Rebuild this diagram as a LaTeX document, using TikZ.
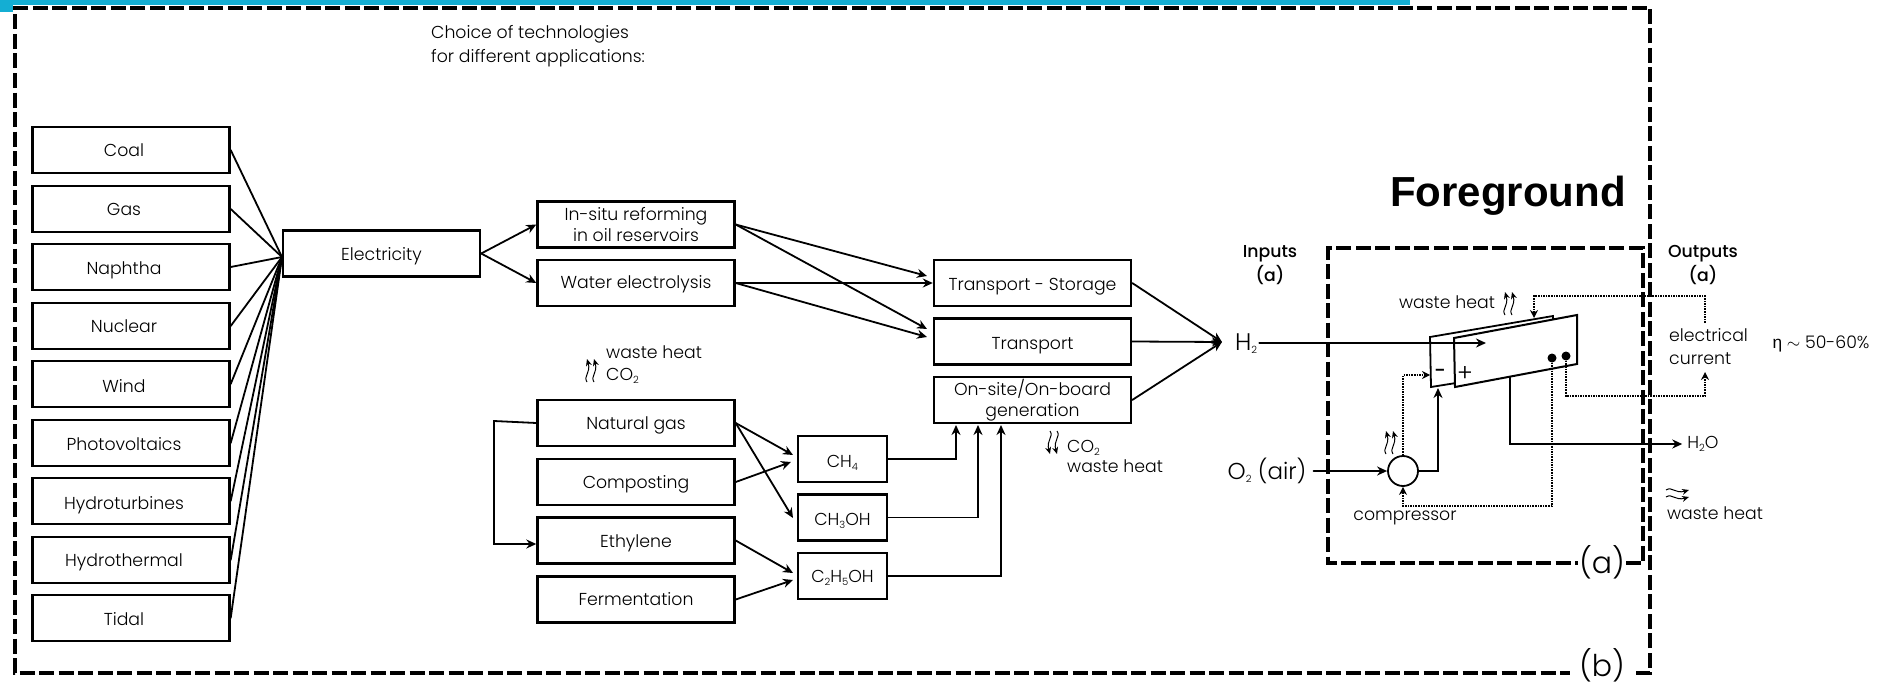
\documentclass[tikz,border=0pt]{standalone}
\usepackage{fontspec}
\setmainfont{Poppins}[UprightFont=* Light,BoldFont=* Medium]
\newfontfamily\arialf{Liberation Sans}
\usetikzlibrary{arrows.meta,calc}
\definecolor{band}{HTML}{14AED3}
\newcommand{\lowidx}[1]{{\fontsize{10}{10}\selectfont\raisebox{-3pt}{#1}}}
\newcommand{\dn}[2]{\raisebox{0pt}[\dimexpr\height+#1pt*2\relax][\depth]{#2}}
\tikzset{
  base/.style={font=\fontsize{17.3}{24}\selectfont},
  box/.style={base,draw=black,line width=2.4pt,fill=white,minimum width=197pt,minimum height=46pt,inner sep=0pt,align=center},
  leftbox/.style={box,execute at begin node={\hspace*{-14pt}}},
  chem/.style={box,minimum width=89pt},
  txt/.style={base,inner sep=0pt,align=left},
  wire/.style={line width=1.8pt,line cap=round},
  arr/.style={wire,-{Stealth[length=10pt,width=9pt]}},
  dotw/.style={line width=1.6pt,densely dotted},
  dotarr/.style={dotw,-{Stealth[length=8pt,width=8pt]}},
  frame/.style={line width=3.2pt,dash pattern=on 15pt off 4.5pt},
  waves/.pic={
    \draw[line width=1pt,-{Stealth[length=7pt,width=6pt]}] (-3,12) .. controls (-7,6) and (1,3) .. (-3,-11);
    \draw[line width=1pt,-{Stealth[length=7pt,width=6pt]}] (4,12) .. controls (0,6) and (8,3) .. (4,-11);
  }
}
\begin{document}
\begin{tikzpicture}[x=1pt,y=-1pt]
\useasboundingbox (0,0) rectangle (1885,685);
\fill[white] (0,0) rectangle (1885,685);
\fill[band] (0,0) rectangle (1410,5);
\fill[band] (0,0) rectangle (13,12);
% frames
\node[font=\fontsize{30}{30}\selectfont,inner sep=0pt] (lblb) at (1602,665) {(b)};
\node[font=\fontsize{30}{30}\selectfont,inner sep=0pt] (lbla) at (1602,562) {(a)};
\draw[frame] (1636,673) -- (1650,673) -- (1650,8) -- (15,8) -- (15,673) -- (1570,673);
\draw[frame,line width=3.8pt] (1626,563) -- (1643,563) -- (1643,248) -- (1328,248) -- (1328,563) -- (1578,563);
% left column
\node[leftbox] (coal) at (131,150) {Coal};
\node[leftbox] (gas) at (131,209) {Gas};
\node[leftbox] (naph) at (131,267) {\dn{3.5}{Naphtha}};
\node[leftbox] (nucl) at (131,326) {Nuclear};
\node[leftbox] (wind) at (131,384) {\dn{2}{Wind}};
\node[leftbox] (pv) at (131,443) {\dn{1}{Photovoltaics}};
\node[leftbox] (hturb) at (131,501) {\dn{4}{Hydroturbines}};
\node[leftbox] (htherm) at (131,560) {\dn{2}{Hydrothermal}};
\node[leftbox] (tidal) at (131,618) {\dn{1}{Tidal}};
\node[box] (elec) at (381.5,253.5) {\dn{3}{Electricity}};
% middle
\node[box,font=\fontsize{17.3}{21.5}\selectfont] (insitu) at (636,224.5) {In-situ reforming\\in oil reservoirs};
\node[box] (water) at (636,283) {\dn{1}{Water electrolysis}};
\node[box] (ng) at (636,423) {\dn{2}{Natural gas}};
\node[box] (comp) at (636,482) {\dn{2}{Composting}};
\node[box] (eth) at (636,540.5) {\dn{3}{Ethylene}};
\node[box] (ferm) at (636,599.5) {Fermentation};
\node[chem] (ch4) at (842.5,459) {\dn{4}{CH\lowidx{4}}};
\node[chem] (ch3) at (842.5,517.5) {\dn{3}{CH\lowidx{3}OH}};
\node[chem] (c2) at (842.5,576) {\dn{2}{C\lowidx{2}H\lowidx{5}OH}};
\node[box] (ts) at (1032.5,283) {\dn{4}{Transport - Storage}};
\node[box] (tr) at (1032.5,341.5) {\dn{4}{Transport}};
\node[box,font=\fontsize{17.3}{21.5}\selectfont] (os) at (1032.5,400) {On-site/On-board\\generation};
% text
\node[txt,anchor=west] (choice) at (431,46) {Choice of technologies\\for different applications:};
\node[txt,anchor=west,font=\fontsize{17.3}{22}\selectfont] (wh1) at (606,365) {waste heat\\CO\lowidx{2}};
\node[txt,anchor=west,font=\fontsize{17.3}{20}\selectfont] (wh2) at (1067,456) {CO\lowidx{2}\\waste heat};
\node[anchor=west,inner sep=0pt,font=\arialf\bfseries\fontsize{42}{42}\selectfont] (fg) at (1390,196) {Foreground};
\node[txt,align=center,font=\bfseries\fontsize{17.3}{24}\selectfont] (inp) at (1270,265) {Inputs\\(a)};
\node[txt,align=center,font=\bfseries\fontsize{17.3}{24}\selectfont] (outp) at (1703,265) {Outputs\\(a)};
\node[txt,font=\fontsize{24}{24}\selectfont] (h2) at (1246,344) {H\lowidx{2}};
\node[txt,font=\fontsize{23}{23}\selectfont] (o2) at (1267,471) {O\lowidx{2} (air)};
\node[txt] (h2o) at (1703,444) {H\lowidx{2}O};
\node[txt] (wh3) at (1447,302) {waste heat};
\node[txt] (cp) at (1405,518) {compressor};
\node[txt,anchor=west,font=\fontsize{17.3}{23}\selectfont] (cur) at (1669,347) {electrical\\current};
\node[txt] (wh4) at (1715,513) {waste heat};
\node[txt] (eta) at (1821,344) {{\arialf η} $\sim$ 50-60\%};
% wavy arrows
\pic at (590,370) {waves};
\pic[rotate=180] at (1054,443) {waves};
\pic at (1508,303) {waves};
\pic at (1389,442) {waves};
\pic[rotate=-90] at (1678,493) {waves};
% connector end points
\coordinate (hub) at (282,257);
\coordinate (h2in) at (1222,342);
\coordinate (tsA) at (927,276);
\coordinate (trA) at (927,329);
\coordinate (trB) at (927,337);
\coordinate (chA) at (793,455);
\coordinate (chB) at (791,462);
\coordinate (chC) at (793,518);
\coordinate (chD) at (793,573);
\coordinate (chE) at (793,580);
\coordinate (osA) at (956,425);
\coordinate (osB) at (978,425);
\coordinate (osC) at (1001,425);
\coordinate (ngbus) at (494,421);
\coordinate (ethbus) at (494,544);
\foreach \n in {coal,gas,naph,nucl,wind,pv,hturb,htherm,tidal}{\draw[wire] (\n.east) -- (hub);}
\draw[arr] (elec.east) -- (insitu.west);
\draw[arr] (elec.east) -- (water.west);
\draw[arr] (insitu.east) -- (tsA);
\draw[arr] (insitu.east) -- (trA);
\draw[arr] (water.east) -- (ts.west);
\draw[arr] (water.east) -- (trB);
\draw[arr] (ng.east) -- (chA);
\draw[arr] (ng.east) -- (chC);
\draw[arr] (comp.east) -- (chB);
\draw[arr] (eth.east) -- (chD);
\draw[arr] (ferm.east) -- (chE);
\draw[arr] (ng.west) -- (ngbus) -- (ethbus) -- (eth.west |- ethbus);
\draw[arr] (ch4.east) -| (osA);
\draw[arr] (ch3.east) -| (osB);
\draw[arr] (c2.east) -| (osC);
\draw[arr] (ts.east) -- (h2in);
\draw[arr] (tr.east) -- (h2in);
\draw[arr] (os.east) -- (h2in);
% fuel cell
\draw[fill=white,line width=1.8pt] (1553,320) -- (1553,316) -- (1430,337) -- (1431,387) -- (1456,383);
\draw[fill=white,line width=2pt] (1454,338) -- (1577,315) -- (1577,364) -- (1455,387) -- cycle;
\node[inner sep=0pt,font=\bfseries\fontsize{20}{20}\selectfont] (minus) at (1440,373) {-};
\node[inner sep=0pt,font=\fontsize{24}{24}\selectfont] (plus) at (1465,374) {+};
\node[circle,fill=black,inner sep=0pt,minimum size=9pt] (d1) at (1552,358) {};
\node[circle,fill=black,inner sep=0pt,minimum size=9pt] (d2) at (1566,356) {};
\node[circle,draw=black,line width=1.8pt,fill=white,inner sep=0pt,minimum size=30pt] (cmp) at (1403,471) {};
\coordinate (stack) at (1486,343);
\coordinate (plA) at (1438,388);
\coordinate (plB) at (1430,375);
\coordinate (elTop) at (1534,318);
\coordinate (wat) at (1510,377);
\coordinate (cA) at (1705,323);
\coordinate (cB) at (1705,372);
\draw[arr] ($(h2.east)+(2,-1)$) -- (stack);
\draw[arr] (o2.east) ++(7,0) -- (cmp.west);
\draw[arr] (cmp.east) -| (plA);
\draw[arr] (wat) |- ($(h2o.west)+(-5,0)$);
\draw[dotarr] (cmp.north) |- (plB);
\draw[dotarr] (d1.south) |- ($(cmp.south)+(0,19)$) -- (cmp.south);
\draw[dotarr] (d2.south) |- ($(cB)+(0,24)$) -- (cB);
\draw[dotarr] (cA) -- ($(cA)+(0,-27)$) -| (elTop);
\end{tikzpicture}
\end{document}
